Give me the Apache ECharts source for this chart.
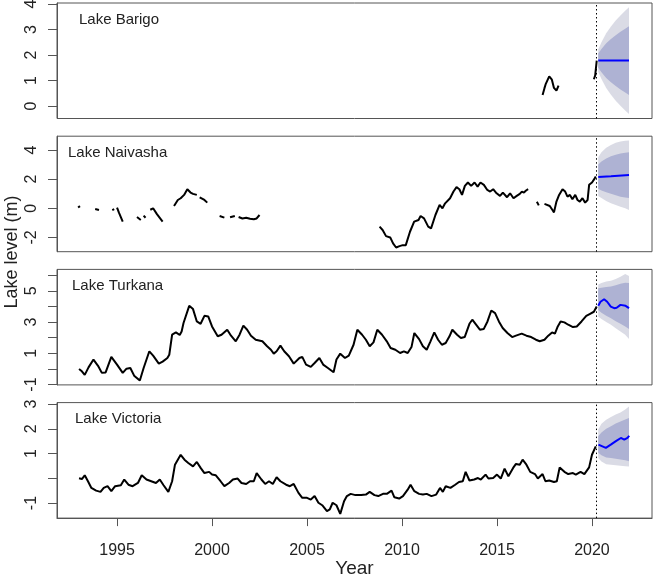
<!DOCTYPE html>
<html>
<head>
<meta charset="utf-8">
<script src="https://cdn.jsdelivr.net/npm/echarts@6/dist/echarts.min.js"></script>
<style>
html, body { margin: 0; padding: 0; background: #fff; }
#main { width: 661px; height: 575px; }
</style>
</head>
<body>
<div id="main"></div>
<script>
// panel titles and axis ticks
var lakeNames = ['Lake Barigo', 'Lake Naivasha', 'Lake Turkana', 'Lake Victoria'];
var xTicks = [1995, 2000, 2005, 2010, 2015, 2020];
var forecastStart = 2020.25;

// observed lake levels [year, m]; null = gap in record
var barigoObs = [[2017.4, 0.43], [2017.5, 0.7], [2017.57, 0.87], [2017.75, 1.16], [2017.89, 1.03], [2018.0, 0.71], [2018.13, 0.6], [2018.24, 0.8], null,
    [2020.1, 1.05], [2020.17, 1.2], [2020.25, 1.78]];

var naivashaObs = [[1992.95, 0.05], [1993.05, 0.15], null,
    [1993.85, -0.05], [1994.05, -0.12], null,
    [1994.75, -0.12], [1994.85, -0.05], null,
    [1995.0, 0.05], [1995.1, -0.3], [1995.3, -0.92], null,
    [1996.05, -0.6], [1996.25, -0.8], null,
    [1996.4, -0.5], [1996.5, -0.65], null,
    [1996.75, -0.1], [1996.9, 0.0], [1997.1, -0.4], [1997.4, -0.92], null,
    [1998.0, 0.16], [1998.2, 0.57], [1998.35, 0.69], [1998.53, 0.92], [1998.7, 1.31], [1998.87, 1.08], [1999.0, 0.99], [1999.2, 0.92], null,
    [1999.35, 0.75], [1999.45, 0.69], [1999.6, 0.57], [1999.75, 0.39], null,
    [2000.4, -0.53], [2000.65, -0.64], null,
    [2000.95, -0.62], [2001.2, -0.53], null,
    [2001.4, -0.6], [2001.6, -0.7], [2001.8, -0.65], [2002.0, -0.72], [2002.2, -0.75], [2002.35, -0.7], [2002.5, -0.46], null,
    [2008.82, -1.26], [2008.98, -1.49], [2009.16, -1.91], [2009.38, -2.0], [2009.53, -2.41], [2009.69, -2.69], [2009.87, -2.6], [2010.04, -2.53],
    [2010.2, -2.53], [2010.42, -1.61], [2010.64, -0.92], [2010.87, -0.8], [2010.98, -0.53], [2011.16, -0.69], [2011.38, -1.26], [2011.53, -1.38],
    [2011.76, -0.46], [2011.98, 0.23], [2012.13, 0.0], [2012.27, 0.34], [2012.53, 0.69], [2012.71, 1.15], [2012.87, 1.45], [2013.02, 1.31],
    [2013.16, 0.92], [2013.31, 1.54], [2013.47, 1.77], [2013.64, 1.54], [2013.82, 1.77], [2013.98, 1.49], [2014.13, 1.77], [2014.31, 1.61],
    [2014.49, 1.26], [2014.64, 1.15], [2014.8, 1.31], [2014.98, 1.03], [2015.16, 0.85], [2015.31, 1.08], [2015.53, 0.76], [2015.69, 1.03],
    [2015.87, 0.69], [2016.04, 0.85], [2016.2, 0.99], [2016.31, 1.15], [2016.42, 1.08], [2016.53, 1.22], [2016.64, 1.31], null,
    [2017.1, 0.45], [2017.2, 0.2], null,
    [2017.5, 0.3], [2017.57, 0.34], [2017.78, 0.16], [2017.92, -0.12], [2018.0, -0.28], [2018.13, 0.46], [2018.27, 0.92], [2018.45, 1.31],
    [2018.59, 1.15], [2018.71, 0.8], [2018.84, 0.92], [2018.97, 0.62], [2019.12, 0.92], [2019.24, 0.57], [2019.36, 0.46], [2019.5, 0.69],
    [2019.64, 0.39], [2019.77, 0.57], [2019.85, 1.61], [2020.0, 1.77], [2020.12, 2.0], [2020.2, 2.18]];

var turkanaObs = [[1993.0, 0.0], [1993.15, -0.15], [1993.3, -0.38], [1993.5, 0.1], [1993.76, 0.6], [1994.0, 0.2], [1994.2, -0.25], [1994.4, -0.22],
    [1994.7, 0.77], [1995.0, 0.28], [1995.3, -0.25], [1995.5, 0.02], [1995.7, 0.06], [1995.9, -0.43], [1996.2, -0.74], [1996.4, 0.06],
    [1996.7, 1.13], [1996.9, 0.85], [1997.2, 0.34], [1997.4, 0.47], [1997.65, 0.7], [1997.75, 0.91], [1997.9, 2.2], [1998.1, 2.34],
    [1998.3, 2.17], [1998.4, 2.4], [1998.5, 2.94], [1998.8, 4.04], [1999.0, 3.83], [1999.2, 3.04], [1999.4, 2.89], [1999.6, 3.4],
    [1999.8, 3.36], [2000.0, 2.72], [2000.3, 2.09], [2000.5, 2.19], [2000.8, 2.51], [2001.0, 2.13], [2001.25, 1.77], [2001.45, 2.19],
    [2001.65, 2.77], [2001.85, 2.51], [2002.05, 2.13], [2002.3, 1.87], [2002.65, 1.77], [2002.9, 1.45], [2003.1, 1.23], [2003.25, 0.98],
    [2003.4, 1.13], [2003.6, 1.49], [2003.8, 1.13], [2004.05, 0.81], [2004.3, 0.34], [2004.6, 0.7], [2004.75, 0.77], [2004.95, 0.28],
    [2005.2, 0.13], [2005.4, 0.38], [2005.65, 0.7], [2005.85, 0.28], [2006.1, 0.06], [2006.4, -0.21], [2006.55, 0.6], [2006.75, 0.98],
    [2007.0, 0.7], [2007.2, 0.85], [2007.45, 1.55], [2007.65, 2.51], [2007.9, 2.19], [2008.1, 1.87], [2008.3, 1.45], [2008.5, 1.7],
    [2008.7, 2.51], [2008.95, 2.19], [2009.2, 1.77], [2009.4, 1.34], [2009.65, 1.23], [2009.9, 1.02], [2010.1, 1.13], [2010.3, 1.02],
    [2010.5, 1.4], [2010.65, 2.3], [2010.9, 1.91], [2011.1, 1.45], [2011.3, 1.23], [2011.5, 1.77], [2011.7, 2.34], [2011.9, 1.87],
    [2012.1, 1.55], [2012.3, 1.66], [2012.5, 2.09], [2012.65, 2.51], [2012.9, 2.19], [2013.1, 1.98], [2013.3, 2.04], [2013.55, 2.89],
    [2013.7, 3.15], [2013.9, 2.83], [2014.1, 2.51], [2014.3, 2.55], [2014.5, 3.04], [2014.7, 3.74], [2014.9, 3.57], [2015.1, 3.04],
    [2015.3, 2.62], [2015.55, 2.3], [2015.8, 2.04], [2016.0, 2.13], [2016.3, 2.26], [2016.55, 2.13], [2016.8, 2.04], [2017.05, 1.87],
    [2017.25, 1.77], [2017.5, 1.87], [2017.7, 2.13], [2017.9, 2.34], [2018.05, 2.26], [2018.2, 2.72], [2018.35, 3.04], [2018.55, 2.98],
    [2018.75, 2.83], [2019.0, 2.68], [2019.2, 2.72], [2019.45, 3.04], [2019.7, 3.4], [2019.9, 3.53], [2020.1, 3.66], [2020.25, 4.0]];

var victoriaObs = [[1993.0, 0.0], [1993.15, -0.03], [1993.3, 0.12], [1993.47, -0.12], [1993.65, -0.39], [1993.9, -0.5], [1994.13, -0.55], [1994.3, -0.39],
    [1994.5, -0.32], [1994.7, -0.52], [1994.9, -0.32], [1995.2, -0.28], [1995.38, -0.05], [1995.6, -0.26], [1995.82, -0.32], [1996.1, -0.19],
    [1996.3, 0.12], [1996.55, -0.05], [1996.8, -0.12], [1997.05, -0.19], [1997.25, -0.05], [1997.45, -0.28], [1997.7, -0.55], [1997.9, -0.12],
    [1998.05, 0.55], [1998.2, 0.75], [1998.35, 0.95], [1998.55, 0.75], [1998.75, 0.62], [1999.0, 0.48], [1999.2, 0.66], [1999.4, 0.42],
    [1999.6, 0.21], [1999.85, 0.26], [2000.0, 0.15], [2000.2, 0.12], [2000.45, -0.12], [2000.65, -0.32], [2000.9, -0.19], [2001.1, -0.05],
    [2001.35, -0.01], [2001.55, -0.19], [2001.8, -0.23], [2002.0, -0.12], [2002.2, -0.12], [2002.35, 0.21], [2002.6, -0.05], [2002.8, -0.23],
    [2003.0, -0.12], [2003.2, -0.23], [2003.4, 0.04], [2003.6, -0.12], [2003.9, -0.26], [2004.1, -0.32], [2004.3, -0.23], [2004.55, -0.59],
    [2004.75, -0.79], [2005.0, -0.79], [2005.2, -0.86], [2005.4, -0.72], [2005.6, -0.99], [2005.8, -1.09], [2006.05, -1.33], [2006.2, -1.26],
    [2006.35, -0.99], [2006.55, -1.09], [2006.75, -1.44], [2006.95, -0.93], [2007.1, -0.72], [2007.3, -0.63], [2007.55, -0.68], [2007.85, -0.68],
    [2008.1, -0.66], [2008.3, -0.55], [2008.55, -0.68], [2008.75, -0.72], [2009.0, -0.63], [2009.2, -0.63], [2009.45, -0.5], [2009.6, -0.77],
    [2009.85, -0.82], [2010.05, -0.72], [2010.3, -0.46], [2010.45, -0.26], [2010.65, -0.52], [2010.9, -0.63], [2011.1, -0.66], [2011.3, -0.63],
    [2011.55, -0.72], [2011.8, -0.66], [2012.0, -0.39], [2012.15, -0.55], [2012.3, -0.32], [2012.55, -0.39], [2012.8, -0.26], [2013.0, -0.15],
    [2013.2, -0.12], [2013.35, 0.26], [2013.55, -0.09], [2013.8, -0.05], [2014.0, 0.01], [2014.15, -0.05], [2014.4, 0.15], [2014.55, -0.01],
    [2014.8, 0.01], [2015.0, 0.15], [2015.2, -0.01], [2015.4, 0.39], [2015.6, 0.08], [2015.85, 0.42], [2016.0, 0.58], [2016.2, 0.55],
    [2016.35, 0.75], [2016.55, 0.55], [2016.75, 0.26], [2017.0, 0.17], [2017.15, -0.01], [2017.4, 0.17], [2017.55, -0.12], [2017.75, -0.09],
    [2018.0, -0.15], [2018.15, -0.12], [2018.3, 0.44], [2018.55, 0.26], [2018.75, 0.17], [2019.0, 0.21], [2019.15, 0.15], [2019.4, 0.26],
    [2019.6, 0.17], [2019.85, 0.44], [2020.0, 0.95], [2020.2, 1.29]];

// forecasts (point forecast + 80% / 95% intervals)
var barigoFcT = [2020.33, 2021.0, 2021.95];
var barigoFc = [1.78, 1.78, 1.78];
var naivashaFcT = [2020.33, 2021.0, 2021.95];
var naivashaFc = [2.15, 2.2, 2.28];
var turkanaFcT = [2020.33, 2020.45, 2020.64, 2020.8, 2020.99, 2021.17, 2021.3, 2021.5, 2021.6, 2021.77, 2021.95];
var turkanaFc = [4.04, 4.3, 4.46, 4.3, 3.99, 3.89, 3.92, 4.1, 4.17, 4.04, 3.89];
var victoriaFcT = [2020.34, 2020.55, 2020.73, 2020.99, 2021.26, 2021.52, 2021.7, 2021.87, 2021.96];
var victoriaFc = [1.36, 1.29, 1.23, 1.36, 1.5, 1.63, 1.56, 1.63, 1.72];

var bandT = [2020.33, 2020.5, 2020.75, 2021.0, 2021.25, 2021.5, 2021.75, 2021.95];
var barigoLo95 = [1.34, 1.06, 0.71, 0.44, 0.21, 0.01, -0.18, -0.31];
var barigoLo80 = [1.5, 1.32, 1.1, 0.93, 0.78, 0.65, 0.53, 0.43];
var barigoHi80 = [2.06, 2.24, 2.46, 2.63, 2.78, 2.91, 3.03, 3.13];
var barigoHi95 = [2.22, 2.5, 2.85, 3.12, 3.35, 3.55, 3.74, 3.87];
var naivashaLo95 = [0.85, 0.7, 0.5, 0.35, 0.22, 0.1, 0.0, -0.12];
var naivashaLo80 = [1.35, 1.22, 1.1, 1.0, 0.9, 0.8, 0.74, 0.7];
var naivashaHi80 = [3.0, 3.22, 3.42, 3.57, 3.68, 3.76, 3.82, 3.85];
var naivashaHi95 = [3.5, 3.85, 4.15, 4.35, 4.5, 4.58, 4.63, 4.66];
var turkanaLo95 = [3.36, 3.2, 3.0, 2.83, 2.6, 2.4, 2.19, 1.92];
var turkanaLo80 = [3.78, 3.6, 3.4, 3.25, 3.05, 2.9, 2.72, 2.55];
var turkanaHi80 = [5.17, 5.2, 5.25, 5.27, 5.35, 5.45, 5.52, 5.5];
var turkanaHi95 = [5.4, 5.5, 5.6, 5.65, 5.75, 5.9, 6.08, 5.95];
var victoriaLo95 = [0.82, 0.68, 0.57, 0.55, 0.53, 0.51, 0.49, 0.48];
var victoriaLo80 = [1.03, 0.93, 0.84, 0.82, 0.79, 0.76, 0.73, 0.69];
var victoriaHi80 = [1.7, 1.85, 2.0, 2.1, 2.22, 2.3, 2.38, 2.44];
var victoriaHi95 = [1.97, 2.2, 2.37, 2.48, 2.58, 2.66, 2.78, 2.9];

// y ranges, ticks and labels per panel
var yMin = [-0.49, -2.98, -1.02, -1.61];
var yMax = [4.04, 4.95, 6.37, 3.06];
var yTicks = [[0, 1, 2, 3, 4], [-2, 0, 2, 4], [-1, 0, 1, 2, 3, 4, 5, 6], [-1, 0, 1, 2, 3]];
var yLabels = [[0, 1, 2, 3, 4], [-2, 0, 2, 4], [-1, 1, 3, 5], [-1, 1, 2, 3]];

(function () {
    var chartDom = document.getElementById('main');
    var myChart = echarts.init(chartDom);
    var font = 'Liberation Sans, Arial, Helvetica, sans-serif';
    var tops = [3, 136.2, 269.4, 402.6];
    var titleLeft = [74, 63, 67, 70];
    var light = '#dadbe5';
    var dark = '#aeb2d3';

    var panels = [
        { obs: barigoObs, fcT: barigoFcT, fc: barigoFc, lo95: barigoLo95, lo80: barigoLo80, hi80: barigoHi80, hi95: barigoHi95 },
        { obs: naivashaObs, fcT: naivashaFcT, fc: naivashaFc, lo95: naivashaLo95, lo80: naivashaLo80, hi80: naivashaHi80, hi95: naivashaHi95 },
        { obs: turkanaObs, fcT: turkanaFcT, fc: turkanaFc, lo95: turkanaLo95, lo80: turkanaLo80, hi80: turkanaHi80, hi95: turkanaHi95 },
        { obs: victoriaObs, fcT: victoriaFcT, fc: victoriaFc, lo95: victoriaLo95, lo80: victoriaLo80, hi80: victoriaHi80, hi95: victoriaHi95 }
    ];

    function pairs(ts, vs) {
        return ts.map(function (t, k) { return [t, vs[k]]; });
    }

    // interval band drawn as one polygon through the axis scales
    function band(i, lo, hi, color, z) {
        var rows = bandT.map(function (t, k) { return [t, lo[k], hi[k]]; });
        return {
            type: 'custom', xAxisIndex: i, yAxisIndex: i, silent: true, z: z,
            data: rows, encode: { x: 0, y: [1, 2] },
            renderItem: function (params, api) {
                if (params.dataIndex !== 0) return null;
                var pts = [];
                rows.forEach(function (r) { pts.push(api.coord([r[0], r[1]])); });
                for (var k = rows.length - 1; k >= 0; k--) pts.push(api.coord([rows[k][0], rows[k][2]]));
                return { type: 'polygon', shape: { points: pts, smooth: 0 }, style: { fill: color, stroke: null } };
            }
        };
    }

    var grid = [], xAxis = [], yAxis = [], title = [], series = [];

    panels.forEach(function (p, i) {
        var last = i === 3;
        grid.push({
            left: 57, right: 9, top: tops[i], height: 115.5,
            outerBoundsMode: 'none', containLabel: false,
            show: true, borderColor: '#555', borderWidth: 1
        });
        title.push({
            text: lakeNames[i], left: titleLeft[i], top: tops[i] + 4,
            textStyle: { fontFamily: font, fontSize: 15, fontWeight: 'normal', color: '#222' }
        });
        xAxis.push({
            type: 'value', gridIndex: i, min: 1991.84, max: 2023.16,
            splitLine: { show: false },
            axisLine: { show: last, onZero: false, lineStyle: { color: '#555' } },
            axisTick: { show: last, length: 8, customValues: xTicks, lineStyle: { color: '#555' } },
            axisLabel: {
                show: last, customValues: xTicks, margin: 24, fontSize: 16, color: '#222', fontFamily: font,
                formatter: function (v) { return String(v); }
            },
            name: last ? 'Year' : '', nameLocation: 'middle', nameGap: 40,
            nameTextStyle: { fontSize: 19, color: '#222', fontFamily: font }
        });
        yAxis.push({
            type: 'value', gridIndex: i, min: yMin[i], max: yMax[i],
            splitLine: { show: false },
            axisLine: { show: true, onZero: false, lineStyle: { color: '#555' } },
            axisTick: { show: true, length: 9, customValues: yTicks[i], lineStyle: { color: '#555' } },
            axisLabel: { customValues: yLabels[i], rotate: 90, margin: 17, fontSize: 16, color: '#222', fontFamily: font }
        });

        series.push(band(i, p.lo95, p.hi95, light, 1));
        series.push(band(i, p.lo80, p.hi80, dark, 2));

        series.push({
            type: 'line', xAxisIndex: i, yAxisIndex: i, z: 3,
            data: p.obs.map(function (d, k) { return d ? d : [p.obs[k - 1][0], '-']; }),
            showSymbol: false, silent: true,
            lineStyle: { color: '#000', width: 2 },
            markLine: {
                silent: true, symbol: ['none', 'none'], label: { show: false },
                lineStyle: { type: [1.5, 2.5], color: '#000', width: 1 },
                data: [{ xAxis: forecastStart }]
            }
        });
        series.push({
            type: 'line', xAxisIndex: i, yAxisIndex: i, z: 4,
            data: pairs(p.fcT, p.fc), showSymbol: false, silent: true,
            lineStyle: { color: '#0000ff', width: 2 }
        });
    });

    var option = {
        animation: false,
        backgroundColor: '#fff',
        title: title,
        grid: grid,
        xAxis: xAxis,
        yAxis: yAxis,
        graphic: [{
            type: 'text', x: 12, y: 252, rotation: Math.PI / 2,
            style: { text: 'Lake level (m)', font: '18px ' + font, fill: '#222', align: 'center', verticalAlign: 'middle' }
        }],
        series: series
    };

    myChart.setOption(option);
    window.addEventListener('resize', function () {
        myChart.resize();
    });
})();
</script>
</body>
</html>
